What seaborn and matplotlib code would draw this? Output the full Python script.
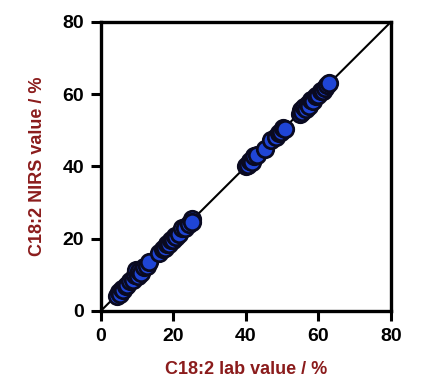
import numpy as np
import pandas as pd
import matplotlib
matplotlib.use("Agg")
import matplotlib.pyplot as plt
import seaborn as sns

# lab reference values vs NIRS predictions (C18:2, %)
lab_value = [4.5, 5.0, 5.3, 5.8, 6.2, 6.8, 7.3, 8.0, 8.8, 9.5, 9.8, 10.2, 10.6, 11.0,
             12.0, 12.6, 13.2, 16.0, 17.0, 17.6, 18.2, 18.8, 19.2, 19.8, 20.3, 20.8,
             21.5, 22.5, 23.3, 24.2, 25.0, 25.2,
             40.0, 40.6, 41.2, 41.8, 42.3, 43.0, 45.2, 47.0, 48.2, 49.0, 49.8, 50.3, 50.8,
             54.8, 55.2, 55.6, 56.1, 56.6, 57.0, 57.5, 58.0, 58.6, 59.2, 60.0, 60.6,
             61.2, 61.7, 62.3, 63.0]
nirs_value = [4.2, 5.1, 4.8, 6.0, 5.9, 7.0, 7.1, 8.3, 8.6, 9.8, 11.2, 9.6, 11.0, 10.5,
              12.2, 12.3, 13.4, 15.9, 17.2, 17.3, 18.5, 18.4, 19.6, 19.5, 20.8, 20.4,
              21.2, 22.8, 22.9, 24.0, 25.3, 24.6,
              40.1, 40.3, 41.5, 41.3, 42.8, 43.2, 44.8, 47.2, 48.0, 49.3, 49.6, 50.6, 50.4,
              54.5, 55.5, 55.1, 56.4, 56.0, 57.3, 56.8, 58.3, 58.2, 59.5, 59.7, 60.9,
              60.8, 61.6, 62.5, 63.2]
axis_ticks = [0, 20, 40, 60, 80]

df = pd.DataFrame({"lab": lab_value, "nirs": nirs_value})

sns.set_style("white")
plt.rcParams["font.family"] = ["Liberation Sans", "DejaVu Sans"]

fig = plt.figure(figsize=(4.24, 3.91), dpi=100)
ax = fig.add_axes([0.238, 0.205, 0.684, 0.739])

ax.plot([0, 80], [0, 80], color="black", lw=1.5, zorder=1)
sns.scatterplot(data=df, x="lab", y="nirs", ax=ax, s=140, color="#1f45d6",
                edgecolor="#0a0a20", linewidth=2.0, zorder=3, legend=False)

ax.set_xlim(0, 80)
ax.set_ylim(0, 80)
ax.set_xticks(axis_ticks)
ax.set_yticks(axis_ticks)
ax.tick_params(direction="out", length=7, width=2.2, labelsize=14, pad=5,
               bottom=True, left=True, colors="black")
for lab in ax.get_xticklabels() + ax.get_yticklabels():
    lab.set_fontweight("bold")
for sp in ax.spines.values():
    sp.set_visible(True)
    sp.set_color("black")
    sp.set_linewidth(2.4)

ax.set_xlabel("C18:2 lab value / %", fontsize=13, fontweight="bold",
              color="#8b1c1c", labelpad=12)
ax.set_ylabel("C18:2 NIRS value / %", fontsize=13, fontweight="bold",
              color="#8b1c1c", labelpad=12)

fig.savefig("out.png", dpi=100, facecolor="white")
